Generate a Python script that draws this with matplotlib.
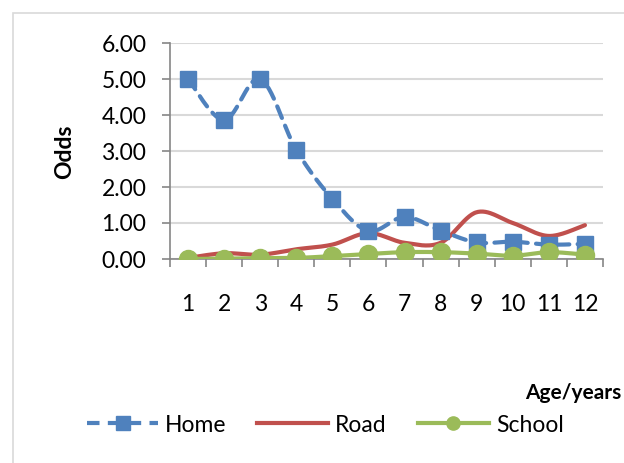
import numpy as np
import matplotlib.pyplot as plt
from matplotlib.patches import Rectangle
from matplotlib.lines import Line2D

plt.rcParams['font.family'] = ['Lato', 'DejaVu Sans']

ages = [1, 2, 3, 4, 5, 6, 7, 8, 9, 10, 11, 12]
home = [5.00, 3.86, 5.00, 3.03, 1.67, 0.78, 1.17, 0.79, 0.46, 0.48, 0.40, 0.42]
road = [0.03, 0.16, 0.12, 0.27, 0.40, 0.72, 0.45, 0.45, 1.30, 1.00, 0.64, 0.94]
school = [0.00, 0.01, 0.02, 0.03, 0.08, 0.14, 0.19, 0.19, 0.15, 0.09, 0.19, 0.12]
y_ticks = [0, 1, 2, 3, 4, 5, 6]

C_HOME = "#4F81BD"
C_ROAD = "#C0504D"
C_SCHOOL = "#9BBB59"
FS = 16.5


def smooth(x, y, n=30):
    # excel-style smoothed line (cardinal bezier through the points)
    x = np.asarray(x, float)
    y = np.asarray(y, float)
    px = np.concatenate([[x[0]], x, [x[-1]]])
    py = np.concatenate([[y[0]], y, [y[-1]]])
    xs, ys = [], []
    t = np.linspace(0, 1, n)
    for i in range(1, len(px) - 2):
        p0 = np.array([px[i], py[i]])
        p3 = np.array([px[i + 1], py[i + 1]])
        c1 = p0 + (np.array([px[i + 1], py[i + 1]]) - np.array([px[i - 1], py[i - 1]])) / 6
        c2 = p3 - (np.array([px[i + 2], py[i + 2]]) - np.array([px[i], py[i]])) / 6
        b = ((1 - t) ** 3)[:, None] * p0 + (3 * (1 - t) ** 2 * t)[:, None] * c1 \
            + (3 * (1 - t) * t ** 2)[:, None] * c2 + (t ** 3)[:, None] * p3
        xs.extend(b[:, 0])
        ys.extend(b[:, 1])
    return xs, ys


fig = plt.figure(figsize=(6.24, 4.63), dpi=100)
ax = fig.add_axes([170 / 624, 1 - 259 / 463, 433 / 624, 216 / 463])

# chart border (cropped at right/bottom)
fig.patches.append(Rectangle((13 / 624, -0.1), 1.2, 1 - 13 / 463 + 0.1,
                             transform=fig.transFigure, fill=False,
                             edgecolor="#D9D9D9", lw=1.2))

DASH = (0, (3.0, 2.0))
ax.plot(*smooth(ages, road), color=C_ROAD, lw=3, solid_capstyle="round", zorder=3)
ax.plot(*smooth(ages, home), color=C_HOME, lw=3, ls=DASH,
        dash_capstyle="round", zorder=4)
ax.plot(ages, home, ls="none", marker="s", ms=12, color=C_HOME, zorder=5)
ax.plot(*smooth(ages, school), color=C_SCHOOL, lw=3, zorder=6)
ax.plot(ages, school, ls="none", marker="o", ms=13, color=C_SCHOOL, zorder=7)

ax.set_xlim(0.5, 12.5)
ax.set_ylim(0, 6)
ax.set_yticks(y_ticks)
ax.set_yticklabels([f"{v:.2f}" for v in y_ticks], fontsize=FS)
ax.set_xticks(np.arange(0.5, 13, 1))
ax.set_xticklabels([])
ax.set_xticks(ages, minor=True)
ax.set_xticklabels([str(a) for a in ages], minor=True, fontsize=FS)
ax.tick_params(axis="x", which="major", length=6, color="#868686", width=1.2)
ax.tick_params(axis="x", which="minor", length=0, pad=25)
ax.tick_params(axis="y", length=6, color="#868686", width=1.2, pad=11)
ax.grid(axis="y", color="#D9D9D9", lw=1.5)
ax.set_axisbelow(True)
for s in ["top", "right"]:
    ax.spines[s].set_visible(False)
for s in ["left", "bottom"]:
    ax.spines[s].set_color("#868686")
    ax.spines[s].set_linewidth(1.2)

fig.text(65 / 624, 1 - 152 / 463, "Odds", rotation=90, fontsize=FS,
         fontweight="bold", ha="center", va="center")
fig.text(621 / 624, 1 - 393 / 463, "Age/years", fontsize=15,
         fontweight="bold", ha="right", va="center")

handles = [
    Line2D([], [], color=C_HOME, lw=3, ls=DASH, marker="s", ms=10.5),
    Line2D([], [], color=C_ROAD, lw=3),
    Line2D([], [], color=C_SCHOOL, lw=3, marker="o", ms=9.5),
]
fig.legend(handles, ["Home", "Road", "School"], loc="center left",
           bbox_to_anchor=(87 / 624, 1 - 425 / 463), ncol=3, frameon=False,
           borderaxespad=0, borderpad=0,
           fontsize=FS, handlelength=3.1, handletextpad=0.3, columnspacing=1.35)

fig.savefig("out.png", dpi=100)
